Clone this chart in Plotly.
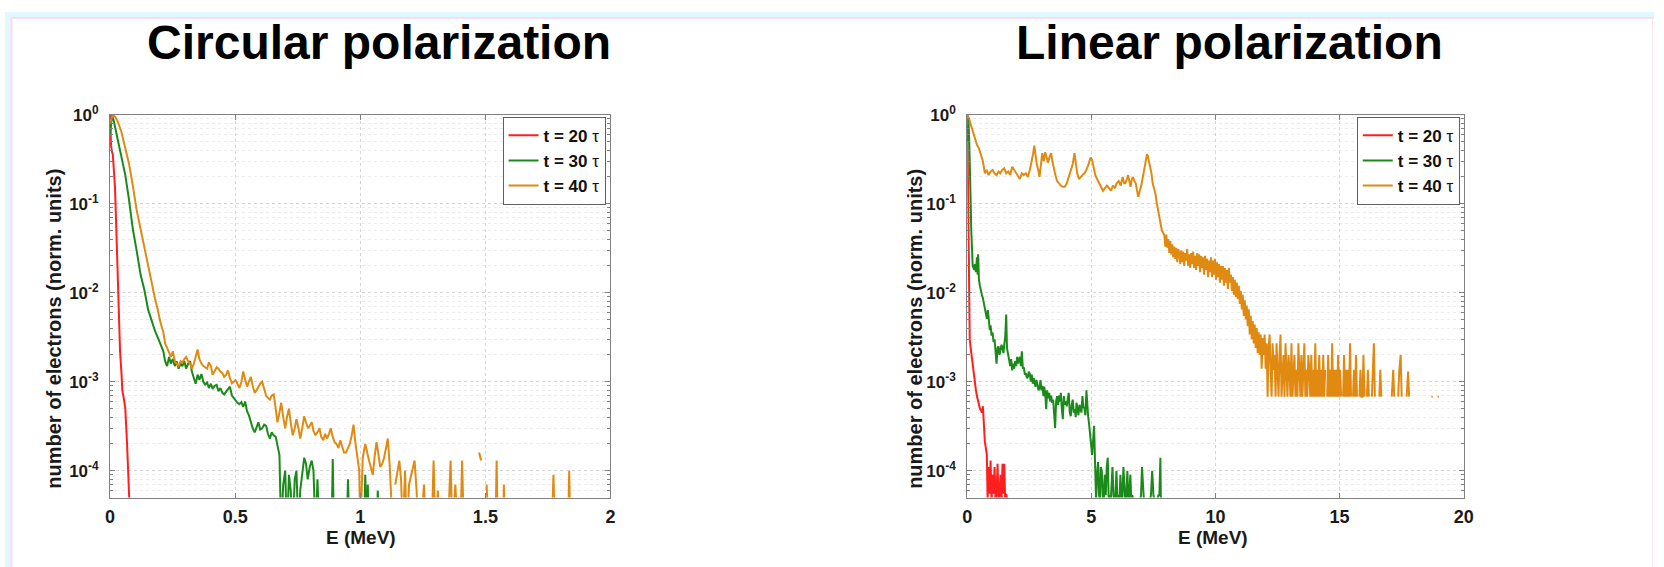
import math
import plotly.graph_objects as go

# ---------------- data ----------------
series_names = ["t = 20 τ", "t = 30 τ", "t = 40 τ"]
series_colors = ["#ff1f1f", "#1b8a1b", "#e08a12"]

x_ticks_circ = [0, 0.5, 1, 1.5, 2]
x_ticklabels_circ = ["0", "0.5", "1", "1.5", "2"]
x_ticks_lin = [0, 5, 10, 15, 20]
x_ticklabels_lin = ["0", "5", "10", "15", "20"]
y_ticks = [1e-4, 1e-3, 1e-2, 1e-1, 1]
y_ticklabels = ["10<sup>-4</sup>", "10<sup>-3</sup>", "10<sup>-2</sup>", "10<sup>-1</sup>", "10<sup>0</sup>"]
y_minor = [2e-5, 3e-5, 4e-5, 5e-5, 6e-5, 7e-5, 8e-5, 9e-5,
           2e-4, 3e-4, 4e-4, 5e-4, 6e-4, 7e-4, 8e-4, 9e-4,
           2e-3, 3e-3, 4e-3, 5e-3, 6e-3, 7e-3, 8e-3, 9e-3,
           2e-2, 3e-2, 4e-2, 5e-2, 6e-2, 7e-2, 8e-2, 9e-2,
           0.2, 0.3, 0.4, 0.5, 0.6, 0.7, 0.8, 0.9]

# Circular polarization
circ_E20 = [0.0, 0.004, 0.008, 0.011, 0.020, 0.027, 0.033, 0.040, 0.046, 0.049, 0.055, 0.061, 0.068, 0.076, 0.082]
circ_n20 = [1.0, 0.45, 0.38, 0.36, 0.15, 0.035, 0.010, 0.0022, 0.0012, 8e-4, 6.5e-4, 5e-4, 2e-4, 5e-5, 2e-5]

circ_E30 = [0.0, 0.008, 0.015, 0.03, 0.045, 0.061, 0.076, 0.091, 0.107, 0.122, 0.137, 0.152, 0.167, 0.18, 0.198,
            0.213, 0.22, 0.228, 0.236, 0.243, 0.251, 0.259, 0.266, 0.274, 0.282, 0.289, 0.297, 0.304, 0.312, 0.32,
            0.327, 0.335, 0.342, 0.35, 0.357, 0.365, 0.373, 0.38, 0.388, 0.395, 0.403, 0.41, 0.418, 0.426, 0.433,
            0.441, 0.449, 0.456, 0.464, 0.471, 0.479, 0.487, 0.494, 0.502, 0.509, 0.517, 0.525, 0.532, 0.54, 0.547,
            0.555, 0.563, 0.57, 0.578, 0.585, 0.593, 0.6, 0.608, 0.616, 0.624, 0.631, 0.639, 0.646, 0.654, 0.662,
            0.669, 0.677, 0.684, 0.692, 0.7, 0.707, 0.715, 0.722, 0.73, 0.738, 0.745, 0.753, 0.76, 0.768, 0.776,
            0.783, 0.79, 0.798, 0.806, 0.813, 0.821, 0.829, 0.836, 0.86, 0.885, 0.89, 0.895, 0.92, 0.945, 0.951,
            0.957, 0.99, 1.015, 1.02, 1.025, 1.03, 1.035, 1.05, 1.065, 1.07, 1.075]
circ_n30 = [0.6, 1.0, 0.85, 0.55, 0.33, 0.21, 0.11, 0.052, 0.029, 0.016, 0.0108, 0.0065, 0.0048, 0.0037, 0.0028,
            0.0022, 0.0017, 0.0015, 0.0019, 0.0016, 0.0018, 0.0015, 0.0017, 0.0014, 0.0016, 0.0015, 0.0017, 0.0014, 0.0016, 0.0017,
            0.0013, 0.0011, 0.00095, 0.0012, 0.00105, 0.00122, 0.001, 0.00093, 0.00098, 0.00085, 0.00095, 0.00083, 0.0009, 0.00092, 0.00078,
            0.00085, 0.00075, 0.00072, 0.00078, 0.00082, 0.00088, 0.0007, 0.00066, 0.00062, 0.00058, 0.00056, 0.00059, 0.00052, 0.0006, 0.00047,
            0.00042, 0.00035, 0.0003, 0.00027, 0.00031, 0.00035, 0.00029, 0.0003, 0.00033, 0.00032, 0.00026, 0.00023, 0.00027, 0.00025, 0.00024,
            0.0002, 0.00015, 2e-5, 7e-5, 1e-4, 2e-5, 9e-5, 6e-5, 2e-5, 8e-5, 1.0e-4, 2e-5, 6e-5, 9e-5, 1.4e-4,
            1.2e-4, 8e-5, 1.1e-4, 1.3e-4, 1.0e-4, 2e-5, 8e-5, 2e-5, None, 2e-5, 1.35e-4, 2e-5, None, 2e-5, 8e-5,
            2e-5, None, 2e-5, 9e-5, 2e-5, 7e-5, 2e-5, None, 2e-5, 6e-5, 2e-5]

circ_E40 = [0.0, 0.01, 0.02, 0.03, 0.045, 0.061, 0.076, 0.091, 0.106, 0.122, 0.137, 0.152, 0.167, 0.18, 0.19, 0.2,
            0.213, 0.22, 0.228, 0.236, 0.243, 0.251, 0.259, 0.266, 0.274, 0.282, 0.289, 0.297, 0.304, 0.312, 0.32,
            0.327, 0.335, 0.342, 0.35, 0.357, 0.365, 0.373, 0.38, 0.388, 0.395, 0.403, 0.41, 0.418, 0.426, 0.433,
            0.441, 0.449, 0.456, 0.464, 0.471, 0.479, 0.487, 0.494, 0.502, 0.509, 0.517, 0.525, 0.532, 0.54, 0.548,
            0.555, 0.563, 0.57, 0.578, 0.585, 0.593, 0.6, 0.608, 0.616, 0.624, 0.631, 0.639, 0.646, 0.654, 0.662,
            0.669, 0.677, 0.684, 0.692, 0.7, 0.707, 0.715, 0.722, 0.73, 0.738, 0.745, 0.753, 0.76, 0.768, 0.776,
            0.783, 0.791, 0.798, 0.806, 0.813, 0.821, 0.829, 0.837, 0.844, 0.852, 0.86, 0.867, 0.875, 0.882, 0.89,
            0.897, 0.905, 0.913, 0.92, 0.928, 0.935, 0.943, 0.95, 0.958, 0.966, 0.973, 0.981, 0.988, 0.996, 1.0,
            1.01, 1.02, 1.027, 1.035, 1.042, 1.05, 1.058, 1.065, 1.073, 1.08, 1.088, 1.095, 1.103, 1.11, 1.118,
            1.125, 1.13, 1.135, 1.14, 1.148, 1.156, 1.163, 1.17, 1.179, 1.186, 1.195, 1.205, 1.217, 1.225, 1.232,
            1.24, 1.255, 1.262, 1.27, 1.285, 1.293, 1.3, 1.31, 1.318, 1.33, 1.35, 1.361, 1.368, 1.38, 1.39,
            1.4, 1.407, 1.414, 1.44, 1.475, 1.483, 1.49, 1.505, 1.513, 1.52, 1.54, 1.545, 1.55, 1.56, 1.57,
            1.574, 1.578, 1.6, 1.765, 1.772, 1.778, 1.8, 1.83, 1.835, 1.84]
circ_n40 = [0.8, 1.0, 0.95, 0.85, 0.65, 0.42, 0.28, 0.16, 0.086, 0.052, 0.032, 0.02, 0.0128, 0.0085, 0.0066, 0.0048,
            0.0036, 0.0027, 0.0024, 0.0021, 0.0019, 0.0022, 0.0017, 0.0016, 0.0015, 0.0017, 0.00165, 0.0018, 0.0019, 0.0017, 0.0016,
            0.0014, 0.0016, 0.0019, 0.0023, 0.0018, 0.0016, 0.0015, 0.00145, 0.0014, 0.00165, 0.0015, 0.0012, 0.0013, 0.00145, 0.0014,
            0.0013, 0.00125, 0.00113, 0.0012, 0.00134, 0.0011, 0.00096, 0.001, 0.00104, 0.00095, 0.00085, 0.001, 0.0013, 0.00105, 0.00088,
            0.001, 0.00113, 0.0009, 0.00075, 0.0008, 0.00088, 0.00095, 0.001, 0.0008, 0.00069, 0.00066, 0.00063, 0.0007, 0.00072, 0.0005,
            0.00035, 0.00045, 0.00058, 0.0004, 0.0003, 0.0004, 0.0005, 0.00035, 0.00025, 0.0003, 0.00038, 0.0003, 0.00023, 0.0003, 0.00041,
            0.00035, 0.0003, 0.00032, 0.00035, 0.00028, 0.00025, 0.00027, 0.0003, 0.00024, 0.00022, 0.00026, 0.00023, 0.00026, 0.0003, 0.00024,
            0.00021, 0.0002, 0.00018, 0.00022, 0.00019, 0.00016, 0.00016, 0.00018, 0.0002, 0.00025, 0.00033, 0.0002, 0.00015, 1e-4, 2e-5,
            1.4e-4, 2e-4, 1.6e-4, 1.3e-4, 1.1e-4, 9e-5, 1.5e-4, 2.1e-4, 1.5e-4, 1.1e-4, 1.2e-4, 1.4e-4, 1.8e-4, 2.3e-4, 1.1e-4,
            2e-5, 2e-5, None, 7e-5, 1.0e-4, 1.3e-4, 8e-5, 2e-5, 1e-4, 2e-5, 7e-5, 9e-5, 1.3e-4, 6e-5, 2e-5,
            2e-5, 7e-5, 2e-5, None, 2e-5, 1.3e-4, 2e-5, 6e-5, 2e-5, None, 2e-5, 1.3e-4, 2e-5, 7e-5, 2e-5,
            2e-5, 1.3e-4, 2e-5, None, 1.6e-4, 1.3e-4, None, 7e-5, 2e-5, None, 2e-5, 1.3e-4, 2e-5, None, 2e-5,
            7e-5, 2e-5, None, 2e-5, 9e-5, 2e-5, None, 2e-5, 1e-4, 2e-5]

# Linear polarization
lin_E20 = [0.0, 0.02, 0.04, 0.06, 0.08, 0.1, 0.13, 0.16, 0.2, 0.24, 0.28, 0.31, 0.35, 0.39, 0.43, 0.47, 0.51, 0.55,
           0.59, 0.63, 0.67, 0.71, 0.75, 0.79, 0.82, 0.86, 0.9, 0.94, 0.98, 1.02, 1.06, 1.1, 1.14, 1.18, 1.22, 1.26,
           1.3, 1.34, 1.38, 1.42, 1.46, 1.49, 1.53, 1.57, 1.62]
lin_n20 = [1.0, 0.3, 0.05, 0.01, 0.0045, 0.003, 0.0025, 0.0021, 0.0017, 0.0014, 0.0012, 0.00096, 0.0008, 0.00069, 0.0006,
           0.00053, 0.0005, 0.00048, 0.00045, 0.00053, 0.00032, 0.00021, 0.00018, 0.00015, 4.5e-5, 1.1e-4, 5.5e-5, 1.3e-4, 4.5e-5,
           9e-5, 5.5e-5, 1.1e-4, 4.5e-5, 5.5e-5, 1.2e-4, 4.5e-5, 5.5e-5, 9e-5, 4.5e-5, 1.2e-4, 5.5e-5, 1.2e-4, 4.5e-5, 5.5e-5, 4.5e-5]

lin_E30 = [0.0, 0.05, 0.08, 0.11, 0.14, 0.16, 0.18, 0.2, 0.22, 0.25, 0.28, 0.31, 0.35, 0.39, 0.42, 0.44, 0.47, 0.51,
           0.55, 0.59, 0.63, 0.67, 0.71, 0.75, 0.79, 0.83, 0.87, 0.91, 0.94, 0.98, 1.02, 1.06, 1.1, 1.14, 1.18, 1.22,
           1.26, 1.3, 1.34, 1.38, 1.42, 1.46, 1.49, 1.53, 1.57, 1.6, 1.65, 1.69, 1.73, 1.77, 1.81, 1.85, 1.89, 1.93,
           1.97, 2.01, 2.05, 2.09, 2.12, 2.16, 2.2, 2.24, 2.28, 2.32, 2.36, 2.4, 2.44, 2.48, 2.52, 2.56, 2.6, 2.64,
           2.68, 2.72, 2.75, 2.79, 2.83, 2.87, 2.91, 2.95, 2.99, 3.03, 3.07, 3.1, 3.14, 3.18, 3.22, 3.26, 3.3, 3.34,
           3.38, 3.42, 3.46, 3.5, 3.54, 3.58, 3.62, 3.66, 3.7, 3.74, 3.77, 3.81, 3.85, 3.89, 3.93, 3.97, 4.01, 4.05,
           4.09, 4.13, 4.17, 4.21, 4.25, 4.29, 4.33, 4.37, 4.4, 4.44, 4.48, 4.52, 4.56, 4.6, 4.64, 4.68, 4.72, 4.76,
           4.8, 4.84, 4.87, 4.91, 4.95, 4.99, 5.03, 5.07, 5.11, 5.15, 5.19, 5.23, 5.27, 5.31, 5.35, 5.38, 5.42, 5.46,
           5.5, 5.54, 5.58, 5.62, 5.66, 5.7, 5.74, 5.78, 5.82, 5.85, 5.89, 5.93, 5.97, 6.01, 6.05, 6.09, 6.13, 6.17,
           6.21, 6.25, 6.29, 6.33, 6.37, 6.41, 6.45, 6.49, 6.53, 6.57, 6.61, 6.65, 6.7, 6.8, 6.95, 7.0, 7.04, 7.08,
           7.12, 7.2, 7.35, 7.4, 7.45, 7.5, 7.55, 7.6, 7.65, 7.7, 7.74, 7.78, 7.8]
lin_n30 = [0.5, 0.9, 0.5, 0.28, 0.1, 0.052, 0.03, 0.023, 0.02, 0.019, 0.018, 0.021, 0.017, 0.025, 0.016, 0.027, 0.014, 0.012,
           0.01, 0.0095, 0.0087, 0.0075, 0.0062, 0.0055, 0.0051, 0.0064, 0.0045, 0.0038, 0.0043, 0.0033, 0.0036, 0.0028, 0.003, 0.0022, 0.0016, 0.0024,
           0.0025, 0.002, 0.0022, 0.0026, 0.0024, 0.0021, 0.0026, 0.0032, 0.0057, 0.0024, 0.002, 0.0017, 0.0015, 0.0018, 0.00134, 0.0016, 0.0014, 0.0017,
           0.0015, 0.0019, 0.0016, 0.0018, 0.0019, 0.0015, 0.0022, 0.0014, 0.00145, 0.0012, 0.00125, 0.0011, 0.00113, 0.0013, 0.00123, 0.001, 0.0012, 0.00095,
           0.0011, 0.00096, 0.00088, 0.00105, 0.0009, 0.0008, 0.00085, 0.00104, 0.0008, 0.0009, 0.00069, 0.00088, 0.00075, 0.00049, 0.0008, 0.00065, 0.00075, 0.0006,
           0.0007, 0.00058, 0.00063, 0.00045, 0.0003, 0.0006, 0.00069, 0.00055, 0.0007, 0.0006, 0.00075, 0.0005, 0.00038, 0.00069, 0.00055, 0.0006, 0.00053, 0.00065,
           0.00075, 0.00045, 0.00041, 0.00055, 0.00063, 0.00045, 0.00049, 0.0004, 0.00058, 0.0005, 0.00042, 0.00055, 0.00049, 0.00045, 0.00069, 0.00052, 0.0005, 0.00042,
           0.0008, 0.00045, 0.00041, 0.00033, 0.00025, 0.0002, 0.00015, 0.00022, 0.00032, 0.00012, 4.5e-5, 9e-5, 1.25e-4, 5.3e-5, 4.5e-5, 1.1e-4, 1e-4, 5.3e-5,
           4.5e-5, 9e-5, 5.3e-5, 1.1e-4, 1.4e-4, 4.5e-5, 5.3e-5, 4.5e-5, 9e-5, 1.1e-4, 5.3e-5, 4.5e-5, 5.3e-5, 1e-4, 4.5e-5, 5.3e-5, 4.5e-5, 9e-5,
           5.3e-5, 4.5e-5, 1.1e-4, 5.3e-5, 4.5e-5, 5.3e-5, 1e-4, 4.5e-5, 5.3e-5, 9e-5, 4.5e-5, 5.3e-5, 4.5e-5, None, 4.5e-5, 5.3e-5, 1.1e-4, 5.3e-5,
           4.5e-5, None, 4.5e-5, 5.3e-5, 1e-4, 5.3e-5, 4.5e-5, None, 4.5e-5, 5.3e-5, 5.3e-5, 1.4e-4, 4.5e-5]

lin_E40 = [0.0, 0.08, 0.16, 0.24, 0.31, 0.39, 0.47, 0.55, 0.63, 0.71, 0.78, 0.86, 0.94, 1.02, 1.1, 1.18, 1.26, 1.33,
           1.41, 1.49, 1.57, 1.65, 1.73, 1.81, 1.89, 1.97, 2.04, 2.12, 2.2, 2.28, 2.36, 2.44, 2.52, 2.59, 2.65, 2.7,
           2.75, 2.8, 2.86, 2.91, 2.96, 3.02, 3.08, 3.14, 3.2, 3.25, 3.31, 3.38, 3.43, 3.49, 3.55, 3.62, 3.69, 3.77,
           3.85, 3.93, 4.01, 4.09, 4.17, 4.25, 4.32, 4.38, 4.43, 4.5, 4.56, 4.64, 4.72, 4.8, 4.87, 4.91, 4.97, 5.03,
           5.1, 5.16, 5.23, 5.31, 5.39, 5.47, 5.55, 5.63, 5.71, 5.79, 5.87, 5.95, 6.02, 6.1, 6.18, 6.26, 6.32, 6.37,
           6.43, 6.48, 6.53, 6.58, 6.63, 6.68, 6.73, 6.79, 6.84, 6.89, 6.95, 7.0, 7.06, 7.11, 7.16, 7.2, 7.24, 7.28,
           7.32, 7.36, 7.42, 7.47, 7.52, 7.58, 7.64, 7.7, 7.74, 7.78, 7.84, 7.9, 7.94, 7.98, 8.02, 8.06, 8.1, 8.14,
           8.18, 8.22, 8.26, 8.3, 8.34, 8.38, 8.42, 8.46, 8.5, 8.54, 8.58, 8.62, 8.66, 8.7, 8.74, 8.78, 8.82, 8.86,
           8.9, 8.94, 8.98, 9.02, 9.06, 9.1, 9.14, 9.18, 9.22, 9.26, 9.3, 9.34, 9.38, 9.42, 9.46, 9.5, 9.54, 9.58,
           9.62, 9.66, 9.7, 9.74, 9.78, 9.82, 9.86, 9.9, 9.94, 9.98, 10.02, 10.06, 10.1, 10.14, 10.18, 10.22, 10.26, 10.3,
           10.34, 10.38, 10.42, 10.46, 10.5, 10.54, 10.58, 10.62, 10.66, 10.7, 10.74, 10.78, 10.82, 10.86, 10.9, 10.94, 10.98, 11.02,
           11.06, 11.1, 11.14, 11.18, 11.22, 11.26, 11.3, 11.34, 11.38, 11.42, 11.46, 11.5, 11.54, 11.58, 11.62, 11.66, 11.7, 11.74,
           11.78, 11.82, 11.86, 11.9, 11.94, 11.98, 12.02, 12.06, 12.1, 12.14, 12.18, 12.22, 12.26, 12.3, 12.34, 12.38, 12.42, 12.46,
           12.5, 12.54, 12.58, 12.62, 12.66, 12.7, 12.74, 12.78, 12.82, 12.86, 12.9, 12.94, 12.98, 13.02, 13.06, 13.1, 13.14, 13.18,
           13.22, 13.26, 13.3, 13.34, 13.38, 13.42, 13.46, 13.5, 13.54, 13.58, 13.62, 13.66, 13.7, 13.74, 13.78, 13.82, 13.86, 13.9,
           13.94, 13.98, 14.02, 14.06, 14.1, 14.14, 14.18, 14.22, 14.26, 14.3, 14.34, 14.38, 14.42, 14.46, 14.5, 14.54, 14.58, 14.62,
           14.66, 14.7, 14.74, 14.78, 14.82, 14.86, 14.9, 14.94, 14.98, 15.02, 15.06, 15.1, 15.14, 15.18, 15.22, 15.26, 15.3, 15.34,
           15.38, 15.42, 15.46, 15.5, 15.54, 15.58, 15.62, 15.66, 15.7, 15.74, 15.8, 15.84, 15.88, 15.92, 15.96, 16.0, 16.04, 16.1,
           16.14, 16.18, 16.22, 16.3, 16.34, 16.38, 16.42, 16.46, 16.6, 16.64, 16.68, 16.72, 17.1, 17.16, 17.2, 17.24, 17.36, 17.4,
           17.46, 17.5, 17.54, 17.7, 17.76, 17.8, 17.84, 18.7, 18.75, 18.8, 18.95, 19.0]
lin_n40 = [1.0, 0.9, 0.75, 0.62, 0.54, 0.46, 0.42, 0.36, 0.3, 0.22, 0.24, 0.21, 0.23, 0.24, 0.22, 0.21, 0.23, 0.22,
           0.24, 0.25, 0.22, 0.23, 0.21, 0.26, 0.24, 0.22, 0.2, 0.19, 0.22, 0.21, 0.22, 0.2, 0.24, 0.29, 0.36, 0.45,
           0.33, 0.28, 0.24, 0.2, 0.26, 0.37, 0.3, 0.38, 0.33, 0.29, 0.33, 0.37, 0.3, 0.24, 0.21, 0.18, 0.17, 0.16,
           0.155, 0.155, 0.17, 0.2, 0.24, 0.28, 0.37, 0.28, 0.22, 0.19, 0.2, 0.21, 0.22, 0.24, 0.27, 0.29, 0.33, 0.31,
           0.25, 0.21, 0.19, 0.17, 0.15, 0.14, 0.15, 0.16, 0.15, 0.14, 0.16, 0.15, 0.17, 0.18, 0.16, 0.2, 0.17, 0.17,
           0.19, 0.21, 0.18, 0.155, 0.19, 0.2, 0.18, 0.17, 0.14, 0.12, 0.14, 0.155, 0.19, 0.23, 0.28, 0.31, 0.36, 0.34,
           0.3, 0.28, 0.22, 0.17, 0.15, 0.13, 0.1, 0.08, 0.066, 0.057, 0.05, 0.047, 0.044, 0.033, 0.045, 0.032, 0.04, 0.028,
           0.038, 0.027, 0.035, 0.025, 0.033, 0.024, 0.032, 0.022, 0.031, 0.028, 0.021, 0.03, 0.022, 0.029, 0.02, 0.028, 0.023, 0.031,
           0.02, 0.027, 0.019, 0.028, 0.021, 0.029, 0.019, 0.026, 0.018, 0.028, 0.02, 0.027, 0.017, 0.026, 0.019, 0.025, 0.016, 0.026,
           0.018, 0.024, 0.015, 0.023, 0.017, 0.025, 0.015, 0.023, 0.016, 0.024, 0.014, 0.022, 0.015, 0.021, 0.013, 0.02, 0.014, 0.02,
           0.012, 0.019, 0.013, 0.018, 0.011, 0.019, 0.013, 0.016, 0.0105, 0.015, 0.0095, 0.014, 0.009, 0.013, 0.0085, 0.012, 0.0075, 0.0105,
           0.0065, 0.0095, 0.0055, 0.0082, 0.005, 0.0072, 0.0042, 0.0065, 0.0034, 0.0055, 0.003, 0.0048, 0.0027, 0.0044, 0.0024, 0.004, 0.0021, 0.0036,
           0.002, 0.0034, 0.0014, 0.0031, 0.002, 0.0034, 0.0014, 0.0027, 0.00068, 0.0024, 0.0034, 0.00136, 0.00068, 0.0027, 0.00136, 0.002, 0.00068, 0.0027,
           0.00136, 0.00068, 0.002, 0.0034, 0.00068, 0.00136, 0.002, 0.00068, 0.0027, 0.00136, 0.00068, 0.002, 0.00136, 0.00068, 0.0027, 0.00068, 0.00136, 0.002,
           0.00068, 0.00136, 0.00068, 0.0027, 0.00136, 0.00068, 0.002, 0.00068, 0.00136, 0.0027, 0.00068, 0.00136, 0.00068, 0.002, 0.00136, 0.00068, 0.002, 0.00068,
           0.00136, 0.00068, 0.0027, 0.00068, 0.00136, 0.00068, 0.002, 0.00068, 0.00136, 0.00068, 0.002, 0.00068, 0.00136, None, 0.00068, 0.002, 0.00068, 0.00136,
           0.00068, 0.0027, 0.00068, 0.00136, 0.00068, 0.00136, 0.00068, 0.002, 0.00068, 0.00136, 0.00068, None, 0.00068, 0.002, 0.00068, 0.00136, 0.00068, 0.00136,
           0.00068, 0.0027, 0.00068, None, 0.00068, 0.00136, 0.00068, 0.002, 0.00068, None, 0.00068, 0.00136, 0.00068, 0.00068, 0.002, 0.00068, None, 0.00068,
           0.00136, 0.00068, None, 0.00068, 0.00136, 0.0027, 0.00068, None, 0.00068, 0.00136, 0.00068, None, 0.00068, 0.00136, 0.00068, None, 0.00068, 0.0013,
           0.002, 0.00068, None, 0.00068, 0.0013, 0.00068, None, 0.00068, 0.00068, None, 0.00068, 0.00068]

# ---------------- layout helpers ----------------
W, H = 1664, 567


def fx(p):
    return p / W


def fy(p):
    return 1 - p / H


FONT = "Liberation Sans, Arial, Helvetica, sans-serif"
AXIS_COLOR = "#808080"
TXT = "#1a1a1a"

fig = go.Figure()

panels = [
    (circ_E20, circ_n20, circ_E30, circ_n30, circ_E40, circ_n40, "x", "y", "legend"),
    (lin_E20, lin_n20, lin_E30, lin_n30, lin_E40, lin_n40, "x2", "y2", "legend2"),
]
for (e20, n20, e30, n30, e40, n40, xa, ya, lg) in panels:
    for name, color, ex, ny in zip(series_names, series_colors, [e20, e30, e40], [n20, n30, n40]):
        label = "<b>" + name[:-2] + "</b> " + name[-1]
        fig.add_trace(go.Scatter(
            x=ex, y=ny, mode="lines", name=label, xaxis=xa, yaxis=ya, legend=lg,
            line=dict(color=color, width=2), connectgaps=False, showlegend=True,
        ))


def xaxis_cfg(domain, rng, tv, tt, anchor):
    return dict(
        domain=domain, range=rng, tickmode="array", tickvals=tv, ticktext=tt, anchor=anchor,
        showgrid=True, gridcolor="#d4d4d4", griddash="dot", gridwidth=1,
        showline=True, linecolor=AXIS_COLOR, linewidth=1, mirror="ticks",
        ticks="inside", ticklen=5, tickcolor=AXIS_COLOR, zeroline=False,
        tickfont=dict(family=FONT, size=18, color=TXT, weight="bold"),
        ticklabelstandoff=3, fixedrange=True,
    )


def yaxis_cfg(domain, anchor):
    return dict(
        domain=domain, type="log", range=[math.log10(5e-5), 0], anchor=anchor,
        tickmode="array", tickvals=y_ticks, ticktext=y_ticklabels,
        showgrid=True, gridcolor="#d4d4d4", griddash="dot", gridwidth=1,
        showline=True, linecolor=AXIS_COLOR, linewidth=1, mirror="ticks",
        ticks="inside", ticklen=5, tickcolor=AXIS_COLOR, zeroline=False,
        tickfont=dict(family=FONT, size=17, color=TXT, weight="bold"),
        ticklabelstandoff=7, fixedrange=True,
        minor=dict(tickmode="array", tickvals=y_minor, showgrid=True, gridcolor="#ececec",
                   griddash="dot", ticks="inside", ticklen=3, tickcolor=AXIS_COLOR),
    )


y_dom = [fy(496), fy(105)]
legend_common = dict(
    bgcolor="white", bordercolor="#606060", borderwidth=1,
    font=dict(family=FONT, size=17, color="#111111"),
    xanchor="right", yanchor="top", tracegroupgap=0, itemwidth=30,
)

fig.update_layout(
    width=W, height=H, autosize=False,
    margin=dict(l=0, r=0, t=0, b=0),
    paper_bgcolor="white", plot_bgcolor="white",
    font=dict(family=FONT, color="#111111"),
    xaxis=xaxis_cfg([fx(106), fx(611)], [0, 2], x_ticks_circ, x_ticklabels_circ, "y"),
    yaxis=yaxis_cfg(y_dom, "x"),
    xaxis2=xaxis_cfg([fx(971), fx(1472)], [0, 20], x_ticks_lin, x_ticklabels_lin, "y2"),
    yaxis2=yaxis_cfg(y_dom, "x2"),
    legend=dict(x=fx(606), y=fy(107), **legend_common),
    legend2=dict(x=fx(1468), y=fy(107), **legend_common),
)

annotations = [
    dict(text="<b>Circular polarization</b>", x=fx(377), y=fy(31), font=dict(size=48, family=FONT, color="black")),
    dict(text="<b>Linear polarization</b>", x=fx(1236), y=fy(31), font=dict(size=48, family=FONT, color="black")),
    dict(text="<b>E (MeV)</b>", x=fx(359), y=fy(537), font=dict(size=19, family=FONT, color=TXT)),
    dict(text="<b>E (MeV)</b>", x=fx(1219), y=fy(537), font=dict(size=19, family=FONT, color=TXT)),
    dict(text="<b>number of electrons (norm. units)</b>", x=fx(50), y=fy(324), textangle=-90,
         font=dict(size=20, family=FONT, color=TXT)),
    dict(text="<b>number of electrons (norm. units)</b>", x=fx(918), y=fy(324), textangle=-90,
         font=dict(size=20, family=FONT, color=TXT)),
]
for a in annotations:
    fig.add_annotation(xref="paper", yref="paper", showarrow=False, xanchor="center", yanchor="middle", **a)

# page frame (cyan strip with pink rule at top and left)
CYAN = "#dff9ff"
PINK = "#fcd6f3"
shapes = [
    dict(x0=0, x1=1, y0=fy(5), y1=1, fillcolor=CYAN),
    dict(x0=0, x1=fx(5.5), y0=0, y1=1, fillcolor=CYAN),
    dict(x0=fx(5.5), x1=1, y0=fy(7), y1=fy(5), fillcolor=PINK),
    dict(x0=fx(5.5), x1=fx(7.5), y0=0, y1=fy(5), fillcolor=PINK),
    dict(x0=fx(1662), x1=fx(1663), y0=0, y1=fy(7), fillcolor="#fbe8f6"),
]
for s in shapes:
    fig.add_shape(type="rect", xref="paper", yref="paper", line=dict(width=0), layer="above", **s)

fig.write_html("out.html")
